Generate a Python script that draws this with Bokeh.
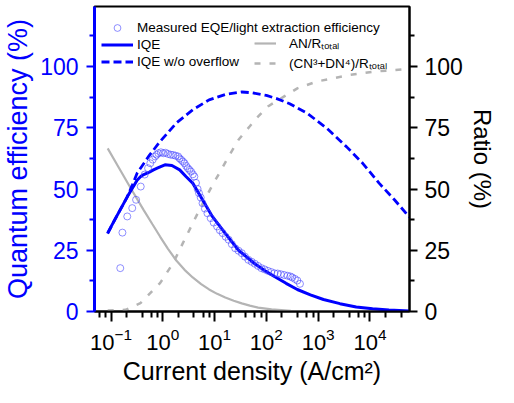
import math
from bokeh.plotting import figure
from bokeh.models import (Range1d, LinearAxis, FixedTicker, Legend, LegendItem)
from bokeh.embed import file_html
from bokeh.resources import INLINE

# ---------------- data ----------------
# current density (A/cm^2) and values (%)
meas_j = [0.151, 0.166, 0.206, 0.257, 0.305, 0.375, 0.447, 0.52, 0.573, 0.64, 0.711, 0.76,
          0.822, 0.92, 1.02, 1.13, 1.27, 1.42, 1.58, 1.76, 1.97, 2.1, 2.27, 2.45, 2.63, 2.83,
          3.04, 3.27, 3.51, 3.8, 4.07, 4.37, 4.7, 5.0, 5.4, 5.85, 6.5, 7.28, 8.4, 9.6, 11.2,
          12.6, 14.3, 16.4, 18.7, 21.5, 25.0, 29.0, 33.5, 38.5, 44.9, 52.0, 59.8, 69.0, 80.0,
          92.0, 107, 124, 143, 165, 190, 220, 257, 290, 316, 355, 396, 445]
meas_v = [17.7, 32.2, 38.8, 42.2, 45.6, 51.0, 55.9, 58.5, 60.5, 62.0, 63.3, 64.0,
          64.6, 65.0, 64.6, 64.8, 64.3, 64.0, 63.9, 63.6, 63.3, 62.5, 61.9, 61.2, 60.5, 59.4,
          58.5, 57.8, 57.1, 56.0, 55.1, 52.5, 50.0, 48.3, 46.5, 44.2, 42.0, 40.1, 38.1, 36.3, 34.7,
          33.2, 32.0, 30.5, 29.3, 27.5, 25.8, 24.8, 23.8, 22.4, 21.1, 20.3, 19.5, 18.6, 17.7,
          17.2, 16.6, 16.1, 15.6, 15.5, 15.2, 14.9, 14.6, 14.3, 13.9, 13.3, 12.65, 11.3]

iqe_j = [0.086, 0.12, 0.206, 0.319, 0.37, 0.428, 0.55, 0.661, 0.8, 1.1, 1.5, 2.12, 2.8, 3.78,
         5.85, 9.04, 16.1, 29.0, 59.8, 91, 143, 240, 396, 708, 1265, 2630, 5430, 11220,
         23200, 58000]
iqe_v = [32.0, 37.7, 46.8, 53.6, 55.0, 55.9, 56.9, 57.8, 58.6, 59.9, 59.6, 57.8, 55.1, 52.4,
         45.6, 38.8, 31.9, 25.0, 19.5, 16.8, 14.3, 11.5, 8.98, 6.8, 4.9, 3.2, 1.84, 1.1,
         0.61, 0.16]

nooverflow_j = [0.086, 0.12, 0.206, 0.26, 0.319, 0.531, 0.885, 1.82, 3.78, 7.83, 16.1, 33.5,
                51.8, 100, 158, 282, 614, 1469, 3508, 7244, 15000, 30000, 58000]
nooverflow_v = [31.8, 37.7, 46.8, 51.8, 56.4, 63.3, 69.4, 76.9, 82.3, 86.4, 88.6, 89.6,
                89.3, 88.2, 86.9, 84.8, 80.9, 74.8, 67.3, 60.5, 52.4, 45.5, 38.5]

an_j = [0.0863, 0.141, 0.242, 0.428, 0.631, 0.885, 1.259, 1.824, 2.63, 3.78, 5.50, 7.83,
        11.2, 16.1, 23.4, 33.5, 47.9, 69.3, 126, 297, 1000, 2630, 58000]
an_v = [66.6, 58.8, 50.2, 41.4, 35.6, 30.6, 25.6, 20.8, 17.0, 13.9, 11.2, 9.0,
        7.2, 5.7, 4.4, 3.3, 2.4, 1.6, 0.9, 0.3, 0.1, 0.05, 0.0]

cn_j = [0.0863, 0.192, 0.370, 0.885, 1.58, 2.44, 3.78, 5.85, 9.04, 13.0, 18.7, 29.0, 47.4,
        64.4, 107, 221, 396, 948, 1960, 4055, 13000, 58000]
cn_v = [0.4, 0.7, 3.4, 11.6, 19.7, 27.9, 36.0, 44.0, 51.5, 57.3, 63.3, 70.1, 75.5,
        78.9, 83.7, 87.8, 91.1, 93.9, 95.2, 96.6, 98.0, 99.0]

y_ticks = [0, 25, 50, 75, 100]
x_ticks = [0.1, 1, 10, 100, 1000, 10000]

# ---------------- styling constants ----------------
BLUE = "#0000ff"
GRAY = "#b4b4b4"
FONT = "Liberation Sans"
Y_MAX = 124.5

y_minor = [12.5, 37.5, 62.5, 87.5, 112.5]
x_minor = [m * d for d in [0.01, 0.1, 1, 10, 100, 1000, 10000] for m in (2, 4, 6, 8)]

p = figure(width=498, height=387, x_axis_type="log",
           x_range=Range1d(0.048, 58000), y_range=Range1d(0, Y_MAX),
           output_backend="svg", toolbar_location=None,
           min_border_left=92, min_border_right=84, min_border_top=6, min_border_bottom=76)
p.extra_y_ranges = {"ratio": Range1d(0, Y_MAX)}
p.grid.visible = False
p.outline_line_color = "black"
p.outline_line_width = 2
p.background_fill_color = "white"
p.border_fill_color = "white"

# glyphs
r_an = p.line(an_j, an_v, line_color=GRAY, line_width=2.2, y_range_name="ratio")
r_cn = p.line(cn_j, cn_v, line_color=GRAY, line_width=2.5, line_dash="6 9", y_range_name="ratio")
r_dash = p.line(nooverflow_j, nooverflow_v, line_color=BLUE, line_width=2.8, line_dash="8 4")
r_iqe = p.line(iqe_j, iqe_v, line_color=BLUE, line_width=3)
r_meas = p.scatter(meas_j, meas_v, marker="circle", size=7, fill_color=None,
                   line_color="#4444ff", line_alpha=0.6, line_width=1)

# bottom axis
xa = p.xaxis[0]
xa.ticker = FixedTicker(ticks=x_ticks, minor_ticks=x_minor)
xa.axis_line_width = 2
xa.axis_line_color = "black"
xa.major_tick_line_width = 2
xa.minor_tick_line_width = 2
xa.major_tick_out = 10
xa.major_tick_in = 0
xa.minor_tick_out = 6
xa.minor_tick_in = 0
xa.major_label_standoff = 6
xa.major_label_text_font = FONT
xa.major_label_text_font_size = "22px"
xa.major_label_text_color = "black"
xa.axis_label = "Current density (A/cm²)"
xa.axis_label_text_font = FONT
xa.axis_label_text_font_size = "25px"
xa.axis_label_text_font_style = "normal"
xa.axis_label_text_color = "black"
xa.axis_label_standoff = 4

# left axis
ya = p.yaxis[0]
ya.ticker = FixedTicker(ticks=y_ticks, minor_ticks=y_minor)
ya.axis_line_color = BLUE
ya.axis_line_width = 3
ya.major_tick_line_color = BLUE
ya.minor_tick_line_color = BLUE
ya.major_tick_line_width = 2
ya.minor_tick_line_width = 2
ya.major_tick_out = 8
ya.major_tick_in = 0
ya.minor_tick_out = 5
ya.minor_tick_in = 0
ya.major_label_standoff = 8
ya.major_label_text_font = FONT
ya.major_label_text_font_size = "23px"
ya.major_label_text_color = BLUE
ya.axis_label = "Quantum efficiency (%)"
ya.axis_label_text_font = FONT
ya.axis_label_text_font_size = "27px"
ya.axis_label_text_font_style = "normal"
ya.axis_label_text_color = BLUE
ya.axis_label_standoff = 4

# right axis
ra = LinearAxis(y_range_name="ratio",
                ticker=FixedTicker(ticks=y_ticks, minor_ticks=y_minor),
                axis_line_color="black", axis_line_width=2,
                major_tick_line_width=2, minor_tick_line_width=2,
                major_tick_out=8, major_tick_in=0, minor_tick_out=5, minor_tick_in=0,
                major_label_standoff=7, major_label_text_font=FONT,
                major_label_text_font_size="23px", major_label_text_color="black",
                axis_label="Ratio (%)", axis_label_text_font=FONT,
                axis_label_text_font_size="24px", axis_label_text_font_style="normal",
                axis_label_text_color="black", axis_label_standoff=3)
p.add_layout(ra, "right")

# legends
leg_style = dict(border_line_color=None, background_fill_alpha=0, padding=0, margin=0,
                 spacing=0, label_text_font=FONT, label_text_font_size="13.5px",
                 label_text_color="black")
leg1 = Legend(items=[LegendItem(label="Measured EQE/light extraction efficiency", renderers=[r_meas]),
                     LegendItem(label="IQE", renderers=[r_iqe]),
                     LegendItem(label="IQE w/o overflow", renderers=[r_dash])],
              location=(7, 241), glyph_width=32, glyph_height=17, label_height=17,
              label_standoff=4, **leg_style)
leg2 = Legend(items=[LegendItem(label="AN/Rₜₒₜₐₗ", renderers=[r_an]),
                     LegendItem(label="(CN³+DN⁴)/Rₜₒₜₐₗ", renderers=[r_cn])],
              location=(160, 238), glyph_width=22, glyph_height=20, label_height=20,
              label_standoff=13, **leg_style)
p.add_layout(leg1)
p.add_layout(leg2)

open("out.html", "w").write(file_html(p, INLINE))
